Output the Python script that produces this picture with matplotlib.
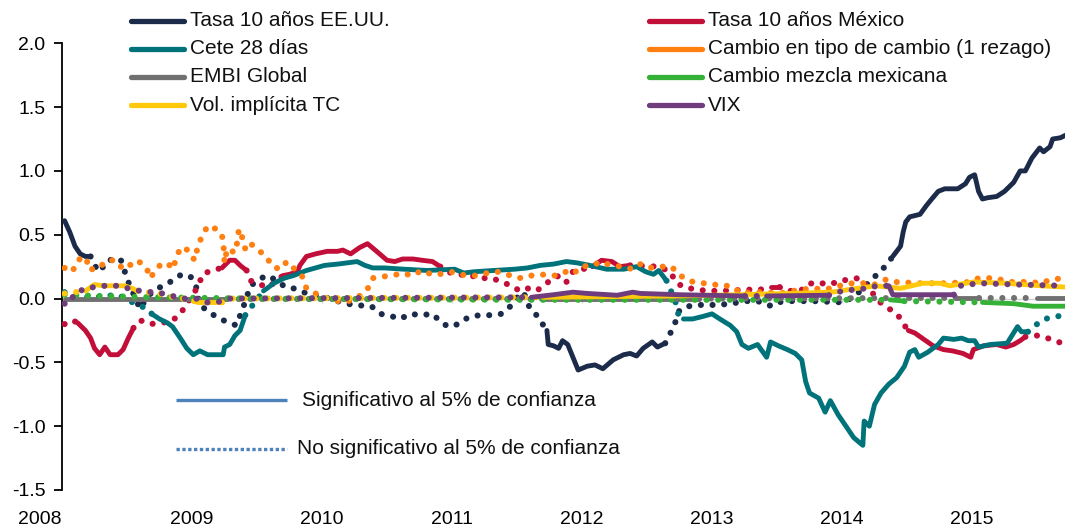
import numpy as np
import matplotlib
matplotlib.use("Agg")
import matplotlib.pyplot as plt
from matplotlib.lines import Line2D
from matplotlib.ticker import FormatStrFormatter, FixedLocator

plt.rcParams['font.family'] = ['Liberation Sans', 'DejaVu Sans']
plt.rcParams['axes.unicode_minus'] = False

# ---------------- data (decimal years, coefficient, significance flag) ----------------
us_t = [2008.02, 2008.06, 2008.10, 2008.14, 2008.18, 2008.22, 2008.25, 2008.29, 2008.35, 2008.45,
        2008.51, 2008.60, 2008.66, 2008.72, 2008.85, 2008.92, 2008.99, 2009.03, 2009.06, 2009.15,
        2009.24, 2009.34, 2009.39, 2009.45, 2009.53, 2009.59, 2009.72, 2009.78, 2009.91, 2009.99,
        2010.15, 2010.24, 2010.38, 2010.45, 2010.54, 2010.60, 2010.68, 2010.76, 2010.85, 2010.91,
        2010.97, 2011.05, 2011.12, 2011.21, 2011.29, 2011.38, 2011.45, 2011.51, 2011.55, 2011.60,
        2011.65, 2011.69, 2011.73, 2011.74, 2011.78, 2011.82, 2011.85, 2011.89, 2011.97, 2012.04,
        2012.10, 2012.16, 2012.24, 2012.32, 2012.37, 2012.42, 2012.47, 2012.54, 2012.58, 2012.64,
        2012.68, 2012.72, 2012.75, 2012.82, 2012.91, 2013.05, 2013.14, 2013.27, 2013.35, 2013.46,
        2013.54, 2013.78, 2014.01, 2014.10, 2014.18, 2014.27, 2014.33, 2014.39, 2014.45, 2014.47,
        2014.49, 2014.52, 2014.56, 2014.60, 2014.65, 2014.69, 2014.74, 2014.79, 2014.89, 2014.95,
        2014.98, 2015.02, 2015.05, 2015.08, 2015.12, 2015.19, 2015.25, 2015.32, 2015.37, 2015.41,
        2015.46, 2015.52, 2015.55, 2015.60, 2015.62, 2015.68, 2015.72]
us_v = [0.61, 0.52, 0.41, 0.35, 0.33, 0.33, 0.26, 0.21, 0.30, 0.31,
        0.13, -0.08, 0.02, 0.07, 0.14, 0.19, 0.17, 0.10, -0.05, -0.12,
        -0.17, -0.21, -0.08, 0.10, 0.16, 0.18, 0.09, 0.08, 0.03, 0.02,
        -0.03, -0.05, -0.06, -0.12, -0.14, -0.16, -0.12, -0.13, -0.12, -0.18,
        -0.22, -0.20, -0.15, -0.13, -0.13, -0.12, -0.06, 0.02, 0.05, -0.08,
        -0.13, -0.19, -0.25, -0.36, -0.37, -0.39, -0.33, -0.36, -0.56, -0.53,
        -0.52, -0.55, -0.48, -0.44, -0.43, -0.45, -0.39, -0.34, -0.38, -0.35,
        -0.27, -0.18, -0.09, -0.06, -0.05, -0.05, -0.04, -0.02, -0.02, -0.06,
        -0.02, -0.02, -0.03, 0.02, 0.10, 0.19, 0.25, 0.33, 0.41, 0.52,
        0.60, 0.64, 0.65, 0.66, 0.73, 0.78, 0.84, 0.86, 0.86, 0.90,
        0.95, 0.97, 0.84, 0.78, 0.79, 0.80, 0.84, 0.91, 1.00, 1.00,
        1.10, 1.18, 1.15, 1.19, 1.25, 1.26, 1.28]
us_s = [1, 1, 1, 1, 1, 0, 0, 0, 0, 0,
        0, 0, 0, 0, 0, 0, 0, 0, 0, 0,
        0, 0, 0, 0, 0, 0, 0, 0, 0, 0,
        0, 0, 0, 0, 0, 0, 0, 0, 0, 0,
        0, 0, 0, 0, 0, 0, 0, 0, 0, 0,
        0, 0, 1, 1, 1, 1, 1, 1, 1, 1,
        1, 1, 1, 1, 1, 1, 1, 1, 1, 0,
        0, 0, 0, 0, 0, 0, 0, 0, 0, 0,
        0, 0, 0, 0, 0, 0, 0, 1, 1, 1,
        1, 1, 1, 1, 1, 1, 1, 1, 1, 1,
        1, 1, 1, 1, 1, 1, 1, 1, 1, 1,
        1, 1, 1, 1, 1, 1, 1]

mx_t = [2008.02, 2008.08, 2008.12, 2008.18, 2008.22, 2008.25, 2008.29, 2008.33, 2008.37, 2008.43,
        2008.47, 2008.51, 2008.55, 2008.60, 2008.68, 2008.84, 2008.91, 2009.05, 2009.08, 2009.15,
        2009.23, 2009.29, 2009.33, 2009.37, 2009.42, 2009.45, 2009.52, 2009.59, 2009.70, 2009.75,
        2009.81, 2009.83, 2009.88, 2009.95, 2010.04, 2010.12, 2010.16, 2010.22, 2010.29, 2010.35,
        2010.42, 2010.50, 2010.56, 2010.62, 2010.70, 2010.77, 2010.85, 2010.91, 2010.96, 2011.04,
        2011.14, 2011.23, 2011.31, 2011.38, 2011.46, 2011.52, 2011.58, 2011.65, 2011.73, 2011.77,
        2011.83, 2011.88, 2011.93, 2012.08, 2012.15, 2012.23, 2012.29, 2012.37, 2012.59, 2012.68,
        2012.72, 2012.78, 2012.88, 2012.97, 2013.06, 2013.28, 2013.37, 2013.45, 2013.52, 2013.60,
        2013.68, 2013.75, 2013.82, 2013.89, 2013.95, 2014.04, 2014.13, 2014.23, 2014.28, 2014.35,
        2014.43, 2014.48, 2014.51, 2014.56, 2014.63, 2014.70, 2014.78, 2014.85, 2014.93, 2014.99,
        2015.01, 2015.09, 2015.19, 2015.26, 2015.32, 2015.37, 2015.41, 2015.50, 2015.58, 2015.72]
mx_v = [-0.20, -0.17, -0.19, -0.25, -0.31, -0.39, -0.44, -0.38, -0.44, -0.44,
        -0.40, -0.31, -0.23, -0.17, -0.20, -0.18, -0.12, 0.10, 0.19, 0.22,
        0.24, 0.30, 0.30, 0.26, 0.22, 0.14, 0.11, 0.09, 0.18, 0.19,
        0.21, 0.26, 0.33, 0.35, 0.37, 0.37, 0.38, 0.35, 0.40, 0.43,
        0.37, 0.30, 0.29, 0.31, 0.31, 0.30, 0.29, 0.25, 0.21, 0.19,
        0.18, 0.16, 0.16, 0.13, 0.10, 0.06, 0.08, 0.06, 0.12, 0.16,
        0.18, 0.13, 0.21, 0.25, 0.30, 0.29, 0.25, 0.26, 0.25, 0.21,
        0.13, 0.09, 0.07, 0.06, 0.06, 0.07, 0.07, 0.09, 0.09, 0.06,
        0.06, 0.12, 0.11, 0.13, 0.12, 0.15, 0.16, 0.05, -0.02, -0.07,
        -0.13, -0.21, -0.25, -0.27, -0.32, -0.37, -0.40, -0.41, -0.43, -0.46,
        -0.40, -0.37, -0.36, -0.38, -0.36, -0.33, -0.30, -0.29, -0.31, -0.36]
mx_s = [0, 0, 1, 1, 1, 1, 1, 1, 1, 1,
        1, 1, 0, 0, 0, 0, 0, 0, 0, 0,
        1, 1, 1, 1, 0, 0, 0, 0, 1, 1,
        1, 1, 1, 1, 1, 1, 1, 1, 1, 1,
        1, 1, 1, 1, 1, 1, 1, 0, 0, 0,
        0, 0, 0, 0, 0, 0, 0, 0, 0, 0,
        0, 0, 0, 1, 1, 1, 1, 0, 0, 0,
        0, 0, 0, 0, 0, 0, 0, 1, 0, 0,
        0, 0, 0, 0, 0, 0, 0, 0, 0, 0,
        0, 0, 1, 1, 1, 1, 1, 1, 1, 1,
        1, 1, 1, 1, 1, 1, 0, 0, 0, 0]

ct_t = [2008.02, 2008.10, 2008.25, 2008.43, 2008.58, 2008.66, 2008.69, 2008.75, 2008.81, 2008.85,
        2008.91, 2008.96, 2009.01, 2009.06, 2009.12, 2009.24, 2009.25, 2009.29, 2009.33, 2009.37,
        2009.41, 2009.46, 2009.55, 2009.63, 2009.71, 2009.78, 2009.88, 2009.95, 2010.02, 2010.12,
        2010.27, 2010.33, 2010.39, 2010.48, 2010.63, 2010.81, 2011.02, 2011.09, 2011.17, 2011.32,
        2011.48, 2011.58, 2011.68, 2011.78, 2011.88, 2011.96, 2012.06, 2012.19, 2012.32, 2012.42,
        2012.49, 2012.55, 2012.59, 2012.65, 2012.68, 2012.72, 2012.74, 2012.78, 2012.85, 2012.93,
        2013.00, 2013.06, 2013.14, 2013.19, 2013.23, 2013.28, 2013.35, 2013.42, 2013.45, 2013.51,
        2013.58, 2013.64, 2013.69, 2013.72, 2013.75, 2013.82, 2013.87, 2013.91, 2013.97, 2014.03,
        2014.09, 2014.16, 2014.17, 2014.21, 2014.25, 2014.30, 2014.36, 2014.42, 2014.48, 2014.52,
        2014.56, 2014.59, 2014.66, 2014.74, 2014.78, 2014.86, 2014.92, 2014.97, 2015.02, 2015.05,
        2015.14, 2015.27, 2015.35, 2015.38, 2015.43, 2015.50, 2015.56, 2015.65, 2015.72]
ct_v = [0.05, 0.02, 0.01, 0.03, -0.05, -0.08, -0.12, -0.16, -0.19, -0.22,
        -0.31, -0.39, -0.44, -0.41, -0.44, -0.44, -0.38, -0.36, -0.29, -0.25,
        -0.13, -0.06, 0.06, 0.12, 0.16, 0.18, 0.22, 0.24, 0.26, 0.27,
        0.29, 0.26, 0.24, 0.24, 0.23, 0.22, 0.23, 0.20, 0.21, 0.22,
        0.23, 0.24, 0.26, 0.27, 0.29, 0.28, 0.26, 0.23, 0.23, 0.25,
        0.21, 0.19, 0.22, 0.14, 0.07, -0.03, -0.12, -0.16, -0.16, -0.14,
        -0.12, -0.16, -0.21, -0.26, -0.36, -0.39, -0.36, -0.46, -0.34, -0.37,
        -0.40, -0.43, -0.48, -0.65, -0.74, -0.78, -0.89, -0.80, -0.91, -1.00,
        -1.09, -1.15, -0.96, -1.00, -0.83, -0.74, -0.67, -0.62, -0.53, -0.42,
        -0.40, -0.46, -0.42, -0.36, -0.31, -0.32, -0.31, -0.33, -0.33, -0.38,
        -0.36, -0.35, -0.22, -0.26, -0.26, -0.20, -0.16, -0.14, -0.13]
ct_s = [0, 0, 0, 0, 0, 0, 1, 1, 1, 1,
        1, 1, 1, 1, 1, 1, 1, 1, 1, 1,
        0, 0, 1, 1, 1, 1, 1, 1, 1, 1,
        1, 1, 1, 1, 1, 1, 1, 1, 1, 1,
        1, 1, 1, 1, 1, 1, 1, 1, 1, 1,
        1, 1, 1, 0, 0, 0, 0, 1, 1, 1,
        1, 1, 1, 1, 1, 1, 1, 1, 1, 1,
        1, 1, 1, 1, 1, 1, 1, 1, 1, 1,
        1, 1, 1, 1, 1, 1, 1, 1, 1, 1,
        1, 1, 1, 1, 1, 1, 1, 1, 1, 1,
        1, 1, 1, 1, 0, 0, 0, 0, 0]

fx_t = [2008.02, 2008.08, 2008.12, 2008.16, 2008.19, 2008.20, 2008.27, 2008.35, 2008.41, 2008.47,
        2008.52, 2008.58, 2008.65, 2008.68, 2008.71, 2008.77, 2008.83, 2008.85, 2008.91, 2008.97,
        2009.02, 2009.05, 2009.08, 2009.12, 2009.20, 2009.24, 2009.25, 2009.27, 2009.33, 2009.35,
        2009.36, 2009.38, 2009.39, 2009.41, 2009.44, 2009.51, 2009.57, 2009.62, 2009.68, 2009.73,
        2009.79, 2009.85, 2009.88, 2009.95, 2010.01, 2010.16, 2010.24, 2010.32, 2010.36, 2010.39,
        2010.45, 2010.54, 2010.62, 2010.69, 2010.77, 2010.84, 2010.90, 2010.99, 2011.06, 2011.12,
        2011.19, 2011.27, 2011.36, 2011.45, 2011.52, 2011.58, 2011.65, 2011.72, 2011.79, 2011.87,
        2011.93, 2011.99, 2012.08, 2012.15, 2012.22, 2012.31, 2012.39, 2012.45, 2012.52, 2012.59,
        2012.69, 2012.74, 2012.82, 2012.90, 2012.98, 2013.06, 2013.14, 2013.23, 2013.31, 2013.39,
        2013.52, 2013.68, 2013.78, 2013.87, 2013.98, 2014.08, 2014.17, 2014.25, 2014.34, 2014.41,
        2014.60, 2014.80, 2014.99, 2015.05, 2015.10, 2015.18, 2015.28, 2015.35, 2015.45, 2015.53,
        2015.61, 2015.72]
fx_v = [0.24, 0.21, 0.30, 0.32, 0.32, 0.23, 0.23, 0.30, 0.30, 0.23,
        0.26, 0.30, 0.24, 0.16, 0.21, 0.28, 0.26, 0.23, 0.40, 0.38,
        0.30, 0.43, 0.49, 0.57, 0.54, 0.47, 0.28, 0.39, 0.36, 0.45,
        0.54, 0.53, 0.44, 0.39, 0.44, 0.38, 0.33, 0.25, 0.23, 0.29,
        0.23, 0.17, 0.08, 0.04, 0.01, -0.03, -0.01, 0.04, 0.09, 0.16,
        0.17, 0.18, 0.20, 0.18, 0.22, 0.19, 0.19, 0.21, 0.19, 0.18,
        0.18, 0.20, 0.21, 0.18, 0.16, 0.18, 0.18, 0.19, 0.18, 0.21,
        0.19, 0.25, 0.26, 0.29, 0.26, 0.25, 0.23, 0.27, 0.24, 0.25,
        0.25, 0.19, 0.14, 0.12, 0.12, 0.10, 0.10, 0.04, 0.05, 0.05,
        0.04, 0.07, 0.08, 0.07, 0.10, 0.12, 0.12, 0.11, 0.15, 0.13,
        0.12, 0.12, 0.13, 0.16, 0.16, 0.16, 0.13, 0.13, 0.13, 0.12,
        0.15, 0.16]
fx_s = [0] * len(fx_t)

embi_t = [2008.02, 2009.27, 2011.70, 2012.90, 2014.88, 2015.05, 2015.50, 2015.72]
embi_v = [0.00, 0.00, 0.00, 0.00, 0.005, 0.005, 0.005, 0.005]
embi_s = [1, 0, 1, 0, 1, 0, 1, 1]

oil_t = [2008.02, 2008.30, 2008.70, 2009.50, 2011.50, 2014.37, 2014.48, 2015.08, 2015.32, 2015.47, 2015.72]
oil_v = [0.03, 0.02, 0.01, 0.00, -0.01, -0.01, -0.02, -0.03, -0.04, -0.06, -0.06]
oil_s = [0, 0, 0, 0, 0, 1, 0, 1, 1, 1, 1]

vol_t = [2008.02, 2008.18, 2008.25, 2008.32, 2008.48, 2008.54, 2008.58, 2008.65, 2008.73, 2008.81,
         2008.88, 2008.97, 2009.04, 2009.23, 2009.30, 2011.70, 2012.70, 2013.20, 2013.60, 2013.92,
         2014.05, 2014.26, 2014.45, 2014.62, 2014.75, 2014.83, 2014.95, 2015.01, 2015.26, 2015.53,
         2015.72]
vol_v = [0.04, 0.06, 0.11, 0.10, 0.10, 0.08, 0.06, 0.05, 0.04, 0.03,
         0.00, 0.00, -0.03, -0.03, 0.00, 0.01, 0.02, 0.03, 0.04, 0.05,
         0.07, 0.10, 0.08, 0.12, 0.12, 0.10, 0.12, 0.13, 0.12, 0.10,
         0.09]
vol_s = [0, 1, 1, 1, 1, 1, 0, 0, 0, 0,
         0, 0, 1, 0, 0, 1, 1, 1, 1, 1,
         1, 1, 1, 1, 1, 1, 1, 1, 1, 1,
         1]

vix_t = [2008.02, 2008.05, 2008.10, 2008.18, 2008.25, 2008.33, 2008.42, 2008.51, 2008.60, 2008.69,
         2008.77, 2008.85, 2008.94, 2009.03, 2009.11, 2009.19, 2009.29, 2011.61, 2011.78, 2011.93,
         2012.04, 2012.27, 2012.39, 2012.45, 2012.75, 2013.25, 2013.42, 2013.90, 2014.00, 2014.10,
         2014.19, 2014.27, 2014.36, 2014.39, 2014.86, 2014.91, 2015.05, 2015.34, 2015.72]
vix_v = [-0.04, -0.04, 0.04, 0.08, 0.09, 0.10, 0.10, 0.08, 0.06, 0.05,
         0.04, 0.02, 0.00, 0.00, -0.03, -0.03, 0.00, 0.01, 0.03, 0.05,
         0.04, 0.026, 0.05, 0.04, 0.03, 0.02, 0.02, 0.026, 0.06, 0.07,
         0.08, 0.10, 0.10, 0.03, 0.03, 0.10, 0.12, 0.11, 0.10]
vix_s = [0, 0, 0, 0, 0, 0, 0, 0, 0, 0,
         0, 0, 0, 0, 0, 0, 0, 1, 1, 1,
         1, 1, 1, 1, 1, 0, 1, 0, 0, 0,
         0, 0, 1, 1, 0, 0, 0, 0, 0]

series_names = ["Tasa 10 años EE.UU.", "Tasa 10 años México", "Cete 28 días",
                "Cambio en tipo de cambio (1 rezago)", "EMBI Global", "Cambio mezcla mexicana",
                "Vol. implícita TC", "VIX"]
series_colors = ["#1c2b49", "#c20f3a", "#00737a", "#ff7f11", "#707070", "#36b138", "#ffc80a", "#6f3d7d"]
year_ticks = [2008, 2009, 2010, 2011, 2012, 2013, 2014, 2015]
y_ticks = [-1.5, -1.0, -0.5, 0.0, 0.5, 1.0, 1.5, 2.0]
note_labels = ["Significativo al 5% de confianza", "No significativo al 5% de confianza"]

series = [(us_t, us_v, us_s), (mx_t, mx_v, mx_s), (ct_t, ct_v, ct_s), (fx_t, fx_v, fx_s),
          (embi_t, embi_v, embi_s), (oil_t, oil_v, oil_s), (vol_t, vol_v, vol_s), (vix_t, vix_v, vix_s)]

# ---------------- figure ----------------
W, H = 1065, 531
fig = plt.figure(figsize=(W / 100, H / 100), dpi=100)
ax = fig.add_axes([62 / W, (H - 490) / H, (W - 62) / W, (490 - 43.3) / H])
ax.set_xlim(2008.0, 2015.715)
ax.set_ylim(-1.5, 2.0)

LW = 3.5
DW = 4.4
DOT = (0, (0.01, 1.9))


def draw_series(t, v, s, color, z):
    t = np.asarray(t, float)
    v = np.asarray(v, float)
    s = np.asarray(s)
    n = len(t)
    i = 0
    while i < n - 1:
        j = i
        while j < n - 1 and s[j] == s[i]:
            j += 1
        if s[i]:
            ax.plot(t[i:j + 1], v[i:j + 1], color=color, lw=LW, solid_capstyle='round',
                    solid_joinstyle='round', zorder=z)
        else:
            ax.plot(t[i:j + 1], v[i:j + 1], color=color, lw=DW, linestyle=DOT,
                    dash_capstyle='round', zorder=z)
        i = j


for k, ((t, v, s), c) in enumerate(zip(series, series_colors)):
    draw_series(t, v, s, c, 3 + k * 0.1)

# axes styling
for side in ['top', 'right']:
    ax.spines[side].set_visible(False)
ax.spines['left'].set_color('black')
ax.spines['left'].set_linewidth(1.3)
ax.spines['bottom'].set_position(('data', 0.0))
ax.spines['bottom'].set_color('#d0d0d0')
ax.spines['bottom'].set_linewidth(1.0)
ax.spines['bottom'].set_zorder(1)

ax.yaxis.set_major_locator(FixedLocator(y_ticks))
ax.yaxis.set_major_formatter(FormatStrFormatter('%.1f'))
ax.tick_params(axis='y', direction='out', length=6, width=1.3, pad=6, labelsize=14, colors='black')
ax.set_xticks(year_ticks)
ax.tick_params(axis='x', direction='out', length=3, width=1.0, color='#d0d0d0', labelbottom=False)

sec = ax.secondary_xaxis(0.0)
sec.set_xticks(year_ticks, labels=[str(y) for y in year_ticks])
sec.spines['bottom'].set_visible(False)
sec.tick_params(axis='x', length=0, pad=15, labelsize=14)
for lbl in sec.get_xticklabels():
    if lbl.get_text() == str(year_ticks[0]):
        lbl.set_horizontalalignment('right')

# ---------------- legend (two columns) ----------------
def px(x, y):
    return x / W, 1 - y / H

rows_y = [20.5, 48.7, 77.0, 105.3]
col_x = [(131, 184, 190), (649, 702, 708)]
for k, (name, c) in enumerate(zip(series_names, series_colors)):
    col = k % 2
    row = k // 2
    x0, x1, xt = col_x[col]
    y = rows_y[row]
    (a0, b0), (a1, b1) = px(x0, y), px(x1, y)
    fig.add_artist(Line2D([a0, a1], [b0, b1], color=c, lw=3.8, solid_capstyle='round',
                          transform=fig.transFigure))
    tx, ty = px(xt, y)
    fig.text(tx, ty, name, fontsize=15, va='center', ha='left', color='#111111')

# ---------------- significance note ----------------
blue = '#4f81bd'
for k, (lab, yy, xt) in enumerate(zip(note_labels, [400, 449], [302, 297])):
    (a0, b0), (a1, b1) = px(176, yy), px(287, yy)
    if k == 0:
        fig.add_artist(Line2D([a0, a1], [b0, b1], color=blue, lw=2.4, solid_capstyle='butt',
                              transform=fig.transFigure))
    else:
        fig.add_artist(Line2D([a0, a1], [b0, b1], color=blue, lw=2.4, linestyle=(0, (1.0, 0.75)),
                              dash_capstyle='butt', transform=fig.transFigure))
    tx, ty = px(xt, yy)
    fig.text(tx, ty, lab, fontsize=15, va='center', ha='left', color='#111111')

fig.savefig('out.png', dpi=100)
